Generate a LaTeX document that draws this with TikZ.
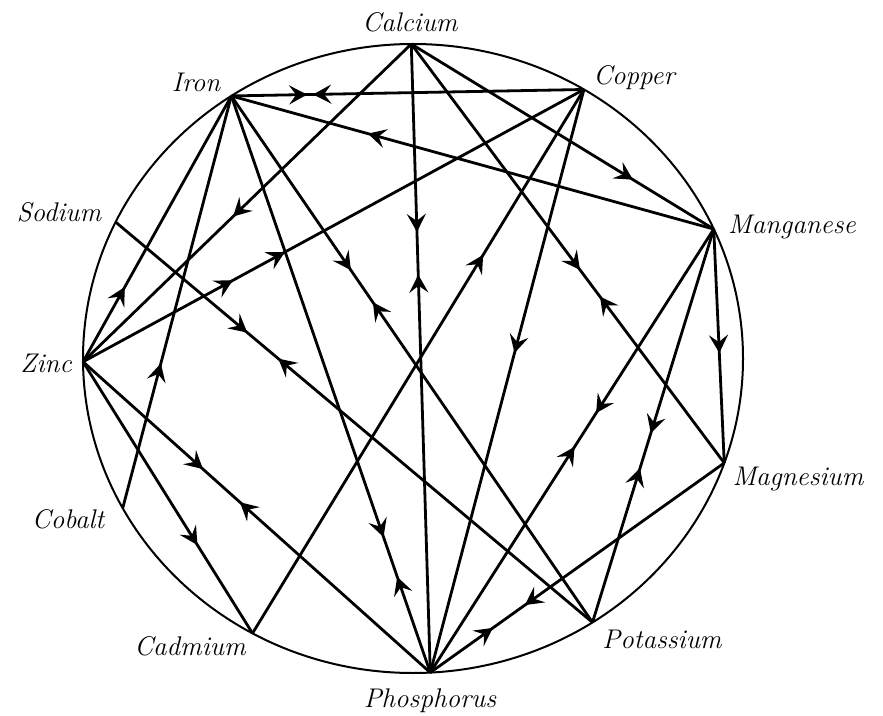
\documentclass[tikz,border=0pt]{standalone}
\usetikzlibrary{arrows.meta,decorations.markings}
\tikzset{
  chord/.style={line width=1.4pt},
  rim/.style={line width=1pt},
  lbl/.style={font=\fontsize{13.5}{16}\selectfont\itshape, inner sep=0pt, anchor=base},
  tipfwd/.style={postaction={decorate,decoration={markings,mark=at position #1 with {\arrow{Stealth[length=9pt,width=9.5pt,inset=3.5pt]}}}}},
  tipbwd/.style={postaction={decorate,decoration={markings,mark=at position #1 with {\arrowreversed{Stealth[length=9pt,width=9.5pt,inset=3.5pt]}}}}},
}
\begin{document}
\begin{tikzpicture}[x=0.5pt,y=-0.5pt]
\useasboundingbox (0,0) rectangle (883,716);
% rim
\draw[rim] (413,358.5) ellipse [x radius=165pt, y radius=157.25pt];
% points on the rim
\coordinate (Ca) at ({413+330*cos(90.3)},{358.5-314.5*sin(90.3)});
\coordinate (Cu) at ({413+330*cos(58.8)},{358.5-314.5*sin(58.8)});
\coordinate (Mn) at ({413+330*cos(24.3)},{358.5-314.5*sin(24.3)});
\coordinate (Mg) at ({413+330*cos(-19.4)},{358.5-314.5*sin(-19.4)});
\coordinate (K)  at ({413+330*cos(-57.05)},{358.5-314.5*sin(-57.05)});
\coordinate (P)  at ({413+330*cos(-87)},{358.5-314.5*sin(-87)});
\coordinate (Cd) at ({413+330*cos(-119.1)},{358.5-314.5*sin(-119.1)});
\coordinate (Co) at ({413+330*cos(-151.6)},{358.5-314.5*sin(-151.6)});
\coordinate (Zn) at ({413+330*cos(180.6)},{358.5-314.5*sin(180.6)});
\coordinate (Na) at ({413+330*cos(154.3)},{358.5-314.5*sin(154.3)});
\coordinate (Fe) at ({413+330*cos(123.4)},{358.5-314.5*sin(123.4)});
% labels
\node[lbl] (tCa) at (410,32) {Calcium};
\node[lbl] (tFe) at (196,92) {Iron};
\node[lbl] (tCu) at (634,85) {Copper};
\node[lbl] (tMn) at (792,234) {Manganese};
\node[lbl] (tMg) at (798,485) {Magnesium};
\node[lbl] (tK)  at (662,648) {Potassium};
\node[lbl] (tP)  at (430,707) {Phosphorus};
\node[lbl] (tCd) at (190,655) {Cadmium};
\node[lbl] (tCo) at (68,528) {Cobalt};
\node[lbl] (tZn) at (46,372) {Zinc};
\node[lbl] (tNa) at (59,222) {Sodium};
% chords
\draw[chord,tipfwd=0.215,tipbwd=0.232] (Fe) -- (Cu);
\draw[chord,tipfwd=0.717] (Mn) -- (Fe);
\draw[chord,tipfwd=0.281] (Zn) -- (Fe);
\draw[chord,tipfwd=0.351] (Co) -- (Fe);
\draw[chord,tipfwd=0.331,tipbwd=0.392] (Fe) -- (K);
\draw[chord,tipfwd=0.765,tipbwd=0.834] (Fe) -- (P);
\draw[chord,tipfwd=0.543] (Ca) -- (Zn);
\draw[chord,tipfwd=0.299,tipbwd=0.367] (Ca) -- (P);
\draw[chord,tipfwd=0.733] (Ca) -- (Mn);
\draw[chord,tipfwd=0.539,tipbwd=0.603] (Ca) -- (Mg);
\draw[chord,tipfwd=0.299,tipfwd=0.403] (Zn) -- (Cu);
\draw[chord,tipfwd=0.696] (Cd) -- (Cu);
\draw[chord,tipfwd=0.452] (Cu) -- (P);
\draw[chord,tipfwd=0.53] (Mn) -- (Mg);
\draw[chord,tipfwd=0.519,tipbwd=0.608] (Mn) -- (K);
\draw[chord,tipfwd=0.415,tipbwd=0.491] (Mn) -- (P);
\draw[chord,tipfwd=0.678,tipbwd=0.787] (Mg) -- (P);
\draw[chord,tipfwd=0.276,tipbwd=0.341] (Na) -- (K);
\draw[chord,tipfwd=0.3455,tipbwd=0.452] (Zn) -- (P);
\draw[chord,tipfwd=0.675] (Zn) -- (Cd);
\end{tikzpicture}
\end{document}
